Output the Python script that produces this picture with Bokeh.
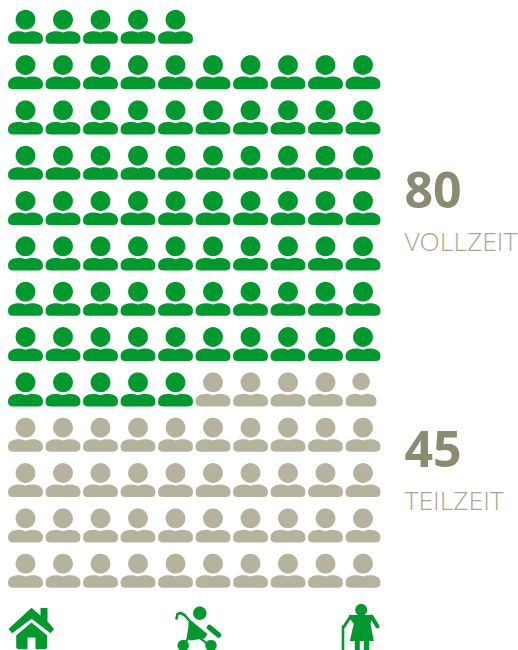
import numpy as np
from bokeh.plotting import figure
from bokeh.models import ColumnDataSource, Range1d
from bokeh.core.properties import value
from bokeh.embed import file_html
from bokeh.resources import INLINE

# ---- data ----
categories = ["VOLLZEIT", "TEILZEIT"]
counts = [80, 45]
count_labels = ["80", "45"]
first_row_count = 5
columns = 10
label_rows = [3.75, 9.47]
small_cells = [(8, 9)]           # (row, col) drawn a little smaller
colors = {"VOLLZEIT": "#00992e", "TEILZEIT": "#b5b39e"}
num_color = "#8b8a72"
lab_color = "#a9a890"

# ---- pixel frame ----
W, H = 518, 650
X0, DX = 25.0, 37.5
Y0, DY = 19.2, 45.33
def ux(px): return (np.asarray(px, float) - X0) / DX
def uy(px): return (np.asarray(px, float) - Y0) / DY

p = figure(width=W, height=H, output_backend="svg", toolbar_location=None,
           x_range=Range1d(ux(0), ux(W)), y_range=Range1d(uy(H), uy(0)),
           min_border=0, outline_line_color=None, border_fill_color=None,
           background_fill_color=None, x_axis_type=None, y_axis_type=None)
p.grid.visible = False

# person outline, relative to head centre, in px
t = np.linspace(0, np.pi / 2, 11)
lobe_x = np.r_[-17.4 + 11.0 * (1 - np.cos(t) ** 0.9), -3.5, 0.0]
lobe_y = np.r_[18.6 - 7.1 * np.sin(t) ** 0.9, 11.8, 12.8]
body_x = np.r_[lobe_x, -lobe_x[-2::-1], 17.4, 16.8, 15.0, 12.5, -12.5, -15.0, -16.8, -17.4]
body_y = np.r_[lobe_y,  lobe_y[-2::-1], 20.5, 22.4, 23.7, 24.1, 24.1, 23.7, 22.4, 20.5]
HEAD_R = 9.9
ang = np.linspace(0, 2 * np.pi, 37)[:-1]

# build the grid from the counts
seq = [c for c, n in zip(categories, counts) for _ in range(n)]
cells = []
r, c = 0, 0
for cat in seq:
    cells.append((r, c, cat))
    c += 1
    if c == (first_row_count if r == 0 else columns):
        r, c = r + 1, 0

shapes = dict(xs=[], ys=[], color=[])
for r, c, cat in cells:
    s, sx, hy = 1.0, 0.0, 0.0
    if (r, c) in small_cells:
        s, sx, hy = 0.88, -1.9, -0.8
    cx = X0 + DX * c + sx
    cy = Y0 + DY * r
    shapes["xs"].append(ux(cx + s * HEAD_R * np.cos(ang)).tolist())
    shapes["ys"].append(uy(cy + hy + s * HEAD_R * np.sin(ang)).tolist())
    shapes["color"].append(colors[cat])
    shapes["xs"].append(ux(cx + s * body_x).tolist())
    shapes["ys"].append(uy(cy + body_y).tolist())
    shapes["color"].append(colors[cat])

p.patches("xs", "ys", source=ColumnDataSource(shapes), fill_color="color", line_color=None)

# labels
lx = [float(ux(405))] * 2
p.text(lx, [float(uy(Y0 + DY * v)) for v in label_rows], text=count_labels,
       text_font=value("Open Sans"), text_font_style="bold", text_font_size="50px",
       text_color=num_color, text_baseline="alphabetic", text_align="left", x_offset=-1)
p.text(lx, [float(uy(Y0 + DY * v + 51)) for v in label_rows], text=categories,
       text_font=value("Open Sans Light"), text_font_size="26.5px",
       text_color=lab_color, text_baseline="alphabetic", text_align="left", x_offset=-1)

# bottom icons
G = colors["VOLLZEIT"]
def poly(pts):
    a = np.array(pts, float)
    p.patch(ux(a[:, 0]), uy(a[:, 1]), fill_color=G, line_color=None)
def line(pts, w):
    a = np.array(pts, float)
    p.line(ux(a[:, 0]), uy(a[:, 1]), line_color=G, line_width=w, line_cap="round", line_join="round")
def dot(x, y, rad):
    p.patch(ux(x + rad * np.cos(ang)), uy(y + rad * np.sin(ang)), fill_color=G, line_color=None)

# house
poly([(31, 607.3), (40, 615), (40, 607.5), (47, 607.5), (47, 621), (53.5, 628.5), (50, 632.7),
      (31, 618.3), (11.7, 632.7), (8, 628.5)])
poly([(31, 622), (46.7, 635), (46.7, 647), (45.5, 648.5), (35, 648.5), (35, 637), (27, 637),
      (27, 648.5), (17, 648.5), (15.7, 647), (15.7, 635)])
# pram
dot(199.3, 612.7, 6.7)
poly([(188, 618), (207, 633.5), (204, 638), (190, 640), (186, 638), (188, 626)])
line([(188, 619), (184, 614.5), (180, 612.5), (177, 613.5), (176, 618)], 2.6)
line([(209, 627), (218, 634.5)], 5.5)
line([(187.5, 638), (183, 645)], 2.2)
line([(200, 638), (209, 645)], 2.2)
dot(182.7, 645, 5.7)
dot(210.5, 645, 5.7)
# granny
dot(360.7, 609.5, 6.0)
poly([(348.5, 614.5), (371.5, 614.5), (372, 617), (370, 623.3), (373.3, 640.5), (349.3, 640.5),
      (353.3, 623.3), (348.5, 617)])
line([(350, 616), (343.5, 626)], 3.0)
line([(371, 616), (377, 626)], 4.0)
line([(342.5, 626), (342.5, 650)], 2.6)
poly([(354.3, 640), (359.3, 640), (359.3, 650), (354.3, 650)])
poly([(363.3, 640), (368.7, 640), (368.7, 650), (363.3, 650)])

open("out.html", "w").write(file_html(p, INLINE))
